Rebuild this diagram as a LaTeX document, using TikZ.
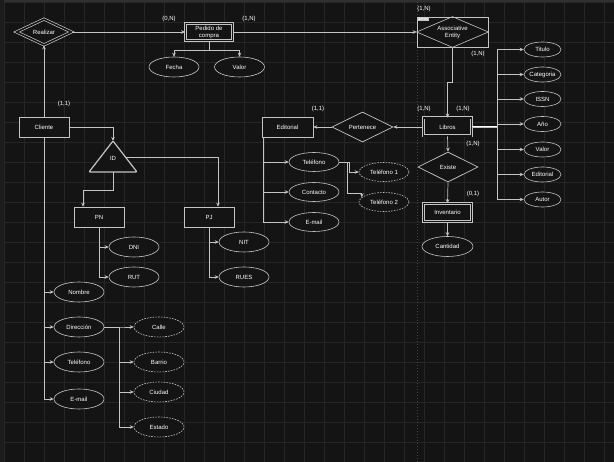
\documentclass[tikz,border=0pt]{standalone}
\usepackage{fontspec}
\setmainfont{Liberation Sans}
\usetikzlibrary{shapes.geometric,arrows.meta}

\definecolor{bg}{RGB}{20,20,20}
\definecolor{gridc}{RGB}{38,38,38}
\definecolor{topc}{RGB}{48,48,48}
\definecolor{sidec}{RGB}{28,28,28}
\definecolor{pagec}{RGB}{70,70,70}
\definecolor{linec}{RGB}{196,196,196}

\tikzset{
  txt/.style={text=white, font=\fontsize{6}{7}\selectfont, align=center},
  ent/.style={txt, draw=linec, fill=bg, line width=0.7pt, inner sep=0pt,
    minimum width=50pt, minimum height=20pt},
  wkent/.style={ent, double=bg, double distance=1.6pt,
    minimum width=47pt, minimum height=17pt},
  rel/.style={txt, diamond, aspect=2, draw=linec, fill=bg, line width=0.7pt,
    inner sep=0pt, minimum width=60pt, minimum height=30pt},
  wkrel/.style={rel, double=bg, double distance=1.6pt,
    minimum width=55pt, minimum height=26pt},
  attr/.style={txt, ellipse, draw=linec, fill=bg, line width=0.6pt,
    inner sep=0pt, minimum width=50pt, minimum height=20pt},
  dattr/.style={attr, dash pattern=on 1.6pt off 1.2pt},
  sattr/.style={attr, minimum width=37pt, minimum height=15pt},
  card/.style={txt},
  con/.style={draw=linec, line width=0.7pt, ->},
}

\begin{document}
\begin{tikzpicture}[x=1pt, y=-1pt, >={Stealth[length=4pt,width=3.6pt]}]
  \fill[bg] (0,0) rectangle (614,462);
  \useasboundingbox (0,0) rectangle (614,462);
  % grid
  \foreach \gx in {4,24,...,604}
    \draw[gridc, line width=0.5pt] (\gx,0) -- (\gx,462);
  \foreach \gy in {2,22,...,462}
    \draw[gridc, line width=0.5pt] (0,\gy) -- (614,\gy);
  \fill[topc] (0,0) rectangle (614,2.5);
  \fill[sidec] (0,0) rectangle (4,462);
  \draw[pagec, dash pattern=on 1pt off 2pt] (417,2.5) -- (417,462);

  % compra
  \node[wkrel] (rea) at (44,32) {Realizar};
  \node[wkent] (ped) at (209,32) {Pedido de\\compra};
  \node[attr] (fec) at (174,67) {Fecha};
  \node[attr] (val) at (239.5,67) {Valor};
  \node[ent, minimum width=71pt, minimum height=30pt] (aso) at (452.5,32) {};
  \draw[linec, line width=0.6pt] (aso.west) -- (aso.north) -- (aso.east)
    -- (aso.south) -- cycle;
  \node[txt] (asot) at (aso.center) {Associative\\Entity};
  \node[anchor=north west, fill=gray!45, text=white, inner sep=0.3pt,
    font=\fontsize{4.2}{4.5}\selectfont] (items) at (417.5,17.3) {Items};

  % cliente
  \node[ent] (cli) at (44,127) {Cliente};
  \coordinate (idtop) at (113,141);
  \coordinate (idl) at (89,172);
  \coordinate (idr) at (137,172);
  \coordinate (idbase) at (113,172);
  \coordinate (idside) at (126,157);
  \draw[linec, fill=bg, line width=1.2pt, rounded corners=1pt]
    (idtop) -- (idr) -- (idl) -- cycle;
  \node[txt] (id) at (113,158) {ID};
  \node[ent] (pn) at (99,217) {PN};
  \node[ent] (pj) at (209,217) {PJ};
  \node[attr] (dni) at (134,247) {DNI};
  \node[attr] (rut) at (134,277) {RUT};
  \node[attr] (nit) at (244,242) {NIT};
  \node[attr] (rues) at (244,277) {RUES};
  \node[attr] (nom) at (79,292) {Nombre};
  \node[attr] (dir) at (79,327) {Dirección};
  \node[attr] (ctel) at (79,362) {Teléfono};
  \node[attr] (cmai) at (79,399) {E-mail};
  \node[dattr] (cal) at (159,327) {Calle};
  \node[dattr] (bar) at (159,362) {Barrio};
  \node[dattr] (ciu) at (159,392) {Ciudad};
  \node[dattr] (est) at (159,427) {Estado};

  % editorial
  \node[ent, minimum width=51pt] (edi) at (287.5,127) {Editorial};
  \node[rel, minimum width=61pt] (per) at (362.5,127) {Pertenece};
  \node[attr, minimum height=19pt] (etel) at (314,162) {Teléfono};
  \node[attr, minimum height=19pt] (econ) at (314,192) {Contacto};
  \node[attr, minimum height=19pt] (emai) at (314,222) {E-mail};
  \node[dattr, minimum height=19pt] (tel1) at (384,172) {Teléfono 1};
  \node[dattr, minimum height=19pt] (tel2) at (384,202) {Teléfono 2};

  % libros
  \node[wkent, minimum width=48pt, minimum height=18pt] (lib) at (447.5,127) {Libros};
  \node[rel] (exi) at (448,167) {Existe};
  \node[wkent, minimum width=48pt, minimum height=18pt] (inv) at (447.5,212.5) {Inventario};
  \node[attr, minimum width=51pt] (can) at (447.5,246.5) {Cantidad};
  \node[sattr] (tit) at (542.5,49.5) {Titulo};
  \node[sattr] (cat) at (542.5,74.5) {Categoria};
  \node[sattr] (isbn) at (542.5,99) {ISSN};
  \node[sattr] (ano) at (542.5,124) {Año};
  \node[sattr] (lval) at (542.5,149.5) {Valor};
  \node[sattr] (ledi) at (542.5,174.5) {Editorial};
  \node[sattr] (aut) at (542.5,199.5) {Autor};

  % cardinalidades
  \node[card] (c1) at (169,19) {(0,N)};
  \node[card] (c2) at (249,19) {(1,N)};
  \node[card] (c3) at (424,9) {(1,N)};
  \node[card] (c4) at (478,54) {(1,N)};
  \node[card] (c5) at (64,104) {(1,1)};
  \node[card] (c6) at (318,109) {(1,1)};
  \node[card] (c7) at (424,109) {(1,N)};
  \node[card] (c8) at (463,109) {(1,N)};
  \node[card] (c9) at (473,144) {(1,N)};
  \node[card] (c10) at (473,194) {(0,1)};

  % conectores
  \draw[con] (cli.north) -- (rea.south);
  \draw[con] (rea.east) -- (ped.west);
  \draw[con] (ped.east) -- (aso.west);
  \draw[con] (ped.south) -- ++(0,10) -| (fec.north);
  \draw[con] (ped.south) -- ++(0,10) -| (val.north);
  \draw[con] (aso.south) -- ++(0,35) -| (lib.north);
  \draw[con] (lib.west) -- (per.east);
  \draw[con] (per.west) -- (edi.east);
  \draw[con] (lib.south) -- (exi.north);
  \draw[con] (exi.south) -- (inv.north);
  \draw[con] (inv.south) -- (can.north);
  \draw[draw=white, line width=1.2pt] (lib.east) -- ++(25,0);
  \foreach \a in {tit,cat,isbn,ano,lval,ledi,aut}
    \draw[con] (lib.east) -- ++(25,0) |- (\a.west);
  \foreach \a in {etel,econ,emai}
    \draw[con] ([xshift=2pt]edi.south west) |- (\a.west);
  \draw[con] (etel.east) -- ++(10,0) |- (tel1.west);
  \draw[con] (etel.east) -- ++(8,0) -- ++(0,31) -| (tel2.168);

  \draw[con] (cli.east) -| (idtop);
  \draw[con] (idbase) -- ++(0,18) -| ([xshift=-16pt]pn.north);
  \draw[con] (idside) -| ([xshift=9pt]pj.north);
  \draw[con] (pn.south) |- (dni.west);
  \draw[con] (pn.south) |- (rut.west);
  \draw[con] (pj.south) |- (nit.west);
  \draw[con] (pj.south) |- (rues.west);
  \foreach \a in {nom,dir,ctel,cmai}
    \draw[con] (cli.south) |- (\a.west);
  \foreach \a in {cal,bar,ciu,est}
    \draw[con] (dir.east) -- ++(15,0) |- (\a.west);
\end{tikzpicture}
\end{document}
